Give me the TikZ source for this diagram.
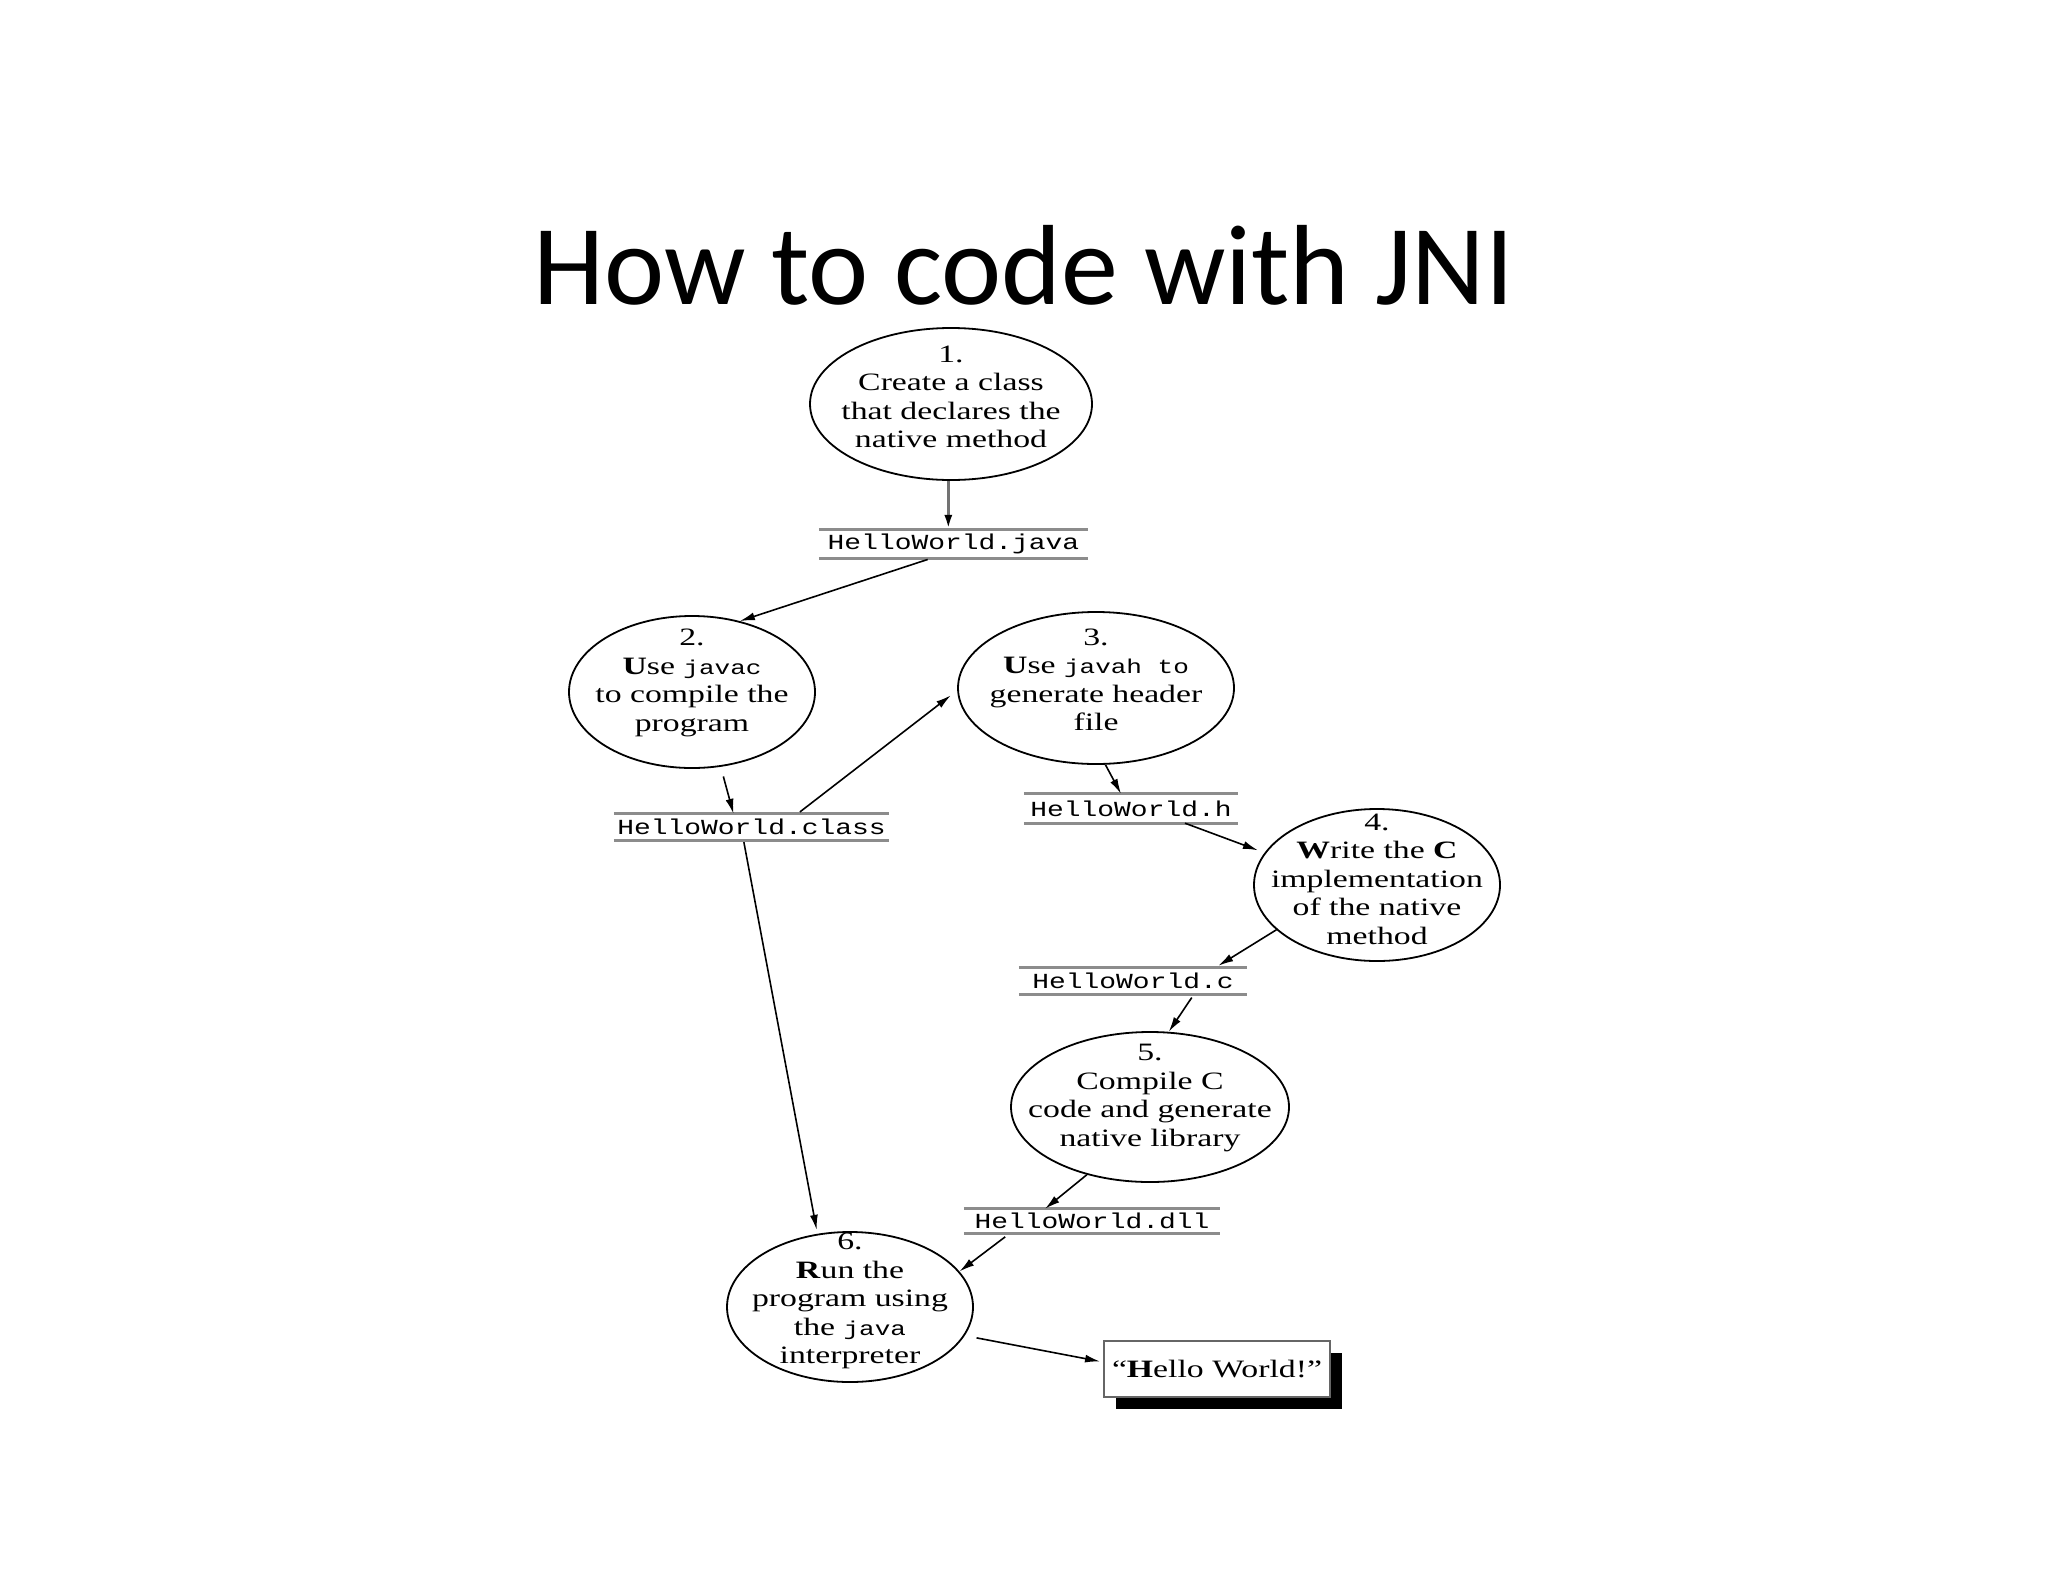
\documentclass[tikz,border=0pt]{standalone}
\usepackage{fontspec}
\setmainfont{Liberation Serif}
\newfontfamily\efont[FakeStretch=1.35]{Liberation Serif}
\newfontfamily\mfont[FakeStretch=1.3]{Liberation Mono}
\newfontfamily\titlefont{Carlito}
\usetikzlibrary{shapes.geometric,arrows.meta,shadows}
\newcommand\jcode[1]{{\mfont\fontsize{20}{28.5}\selectfont #1}}

\begin{document}
\begin{tikzpicture}[x=1pt,y=-1pt,
  stepell/.style={ellipse, draw, line width=1.8pt, inner sep=0pt},
  steptext/.style={align=center, font=\efont\fontsize{25}{28.5}\selectfont, inner sep=0pt},
  filebox/.style={inner sep=0pt, font=\mfont\fontsize{21.5}{24}\selectfont},
  fileline/.style={line width=3pt, draw=black!45},
  conn/.style={-{Latex[length=15pt,width=8pt,black]}, line width=1.6pt},
]
\fill[white] (0,0) rectangle (2048,1582);
\useasboundingbox (0,0) rectangle (2048,1582);

\node[font=\titlefont\fontsize{114}{120}\selectfont, anchor=base, inner sep=0pt] (title) at (1024,304) {How to code with JNI};

% ellipses
\node[stepell, minimum width=282pt, minimum height=152pt] (e1) at (951,404) {};
\node[steptext] (t1) at (951,397) {1.\\Create a class\\that declares the\\native method};
\node[stepell, minimum width=246pt, minimum height=152pt] (e2) at (692,692) {};
\node[steptext] (t2) at (692,683) {2.\\\textbf{U}se \jcode{javac}\\to compile the\\program};
\node[stepell, minimum width=276pt, minimum height=152pt] (e3) at (1096,688) {};
\node[steptext] (t3) at (1096,680) {3.\\\textbf{U}se \jcode{javah to}\\generate header\\file};
\node[stepell, minimum width=246pt, minimum height=152pt] (e4) at (1377,885) {};
\node[steptext] (t4) at (1377,879) {4.\\\textbf{W}rite the \textbf{C}\\implementation\\of the native\\method};
\node[stepell, minimum width=278pt, minimum height=150pt] (e5) at (1150,1107) {};
\node[steptext] (t5) at (1150,1098) {5.\\Compile C\\code and generate\\native library};
\node[stepell, minimum width=246pt, minimum height=150pt] (e6) at (850,1307) {};
\node[steptext] (t6) at (850,1301) {6.\\\textbf{R}un the\\program using\\the \jcode{java}\\interpreter};

% files
\node[filebox, minimum width=269pt, minimum height=28pt] (fj) at (953.5,544) {HelloWorld.java};
\node[filebox, minimum width=275pt, minimum height=26pt] (fcl) at (751.5,827) {HelloWorld.class};
\node[filebox, minimum width=214pt, minimum height=29pt] (fh) at (1131,808.5) {HelloWorld.h};
\node[filebox, minimum width=228pt, minimum height=26pt] (fc) at (1133,981) {HelloWorld.c};
\node[filebox, minimum width=256pt, minimum height=24pt] (fd) at (1092,1221) {HelloWorld.dll};
\foreach \n in {fj,fcl,fh,fc,fd}
  \draw[fileline] (\n.north west) -- (\n.north east) (\n.south west) -- (\n.south east);

% result box
\node[draw=black!60, line width=2pt, fill=white, minimum width=226pt, minimum height=56pt, inner sep=0pt,
      font=\efont\fontsize{25}{28}\selectfont,
      drop shadow={shadow xshift=12pt, shadow yshift=-12pt, fill=black, opacity=1}] (hw) at (1217,1369) {“\textbf{H}ello World!”};

% connectors
\draw[conn, draw=black!55, line width=3pt] (e1.-92) -- (e1.-92 |- fj.north);
\draw[conn, shorten <=4pt] ([xshift=-22pt]fj.south) -- (e2.56);
\draw[conn, shorten <=10pt] (e2.-69) -- ([xshift=-18pt]fcl.north);
\draw[conn, shorten <=3pt, shorten >=8pt] ([xshift=46pt]fcl.north) -- (e3.181);
\draw[conn, shorten <=2pt, shorten >=4pt] ([xshift=-8pt]fcl.south) -- (e6.114);
\draw[conn] (e3.-83) -- ([xshift=-10pt]fh.north);
\draw[conn, shorten >=7pt] ([xshift=54pt]fh.south) -- (e4.164);
\draw[conn, shorten >=4pt] (e4.204) -- ([xshift=82pt]fc.north);
\draw[conn, shorten <=4pt] ([xshift=61pt]fc.south) -- (e5.76);
\draw[conn] (e5.227) -- ([xshift=-47pt]fd.north);
\draw[conn, shorten <=6pt] ([xshift=-82pt]fd.south) -- (e6.18);
\draw[conn, shorten <=12pt, shorten >=3pt] (e6.-14) -- ([yshift=7pt]hw.west);
\end{tikzpicture}
\end{document}
